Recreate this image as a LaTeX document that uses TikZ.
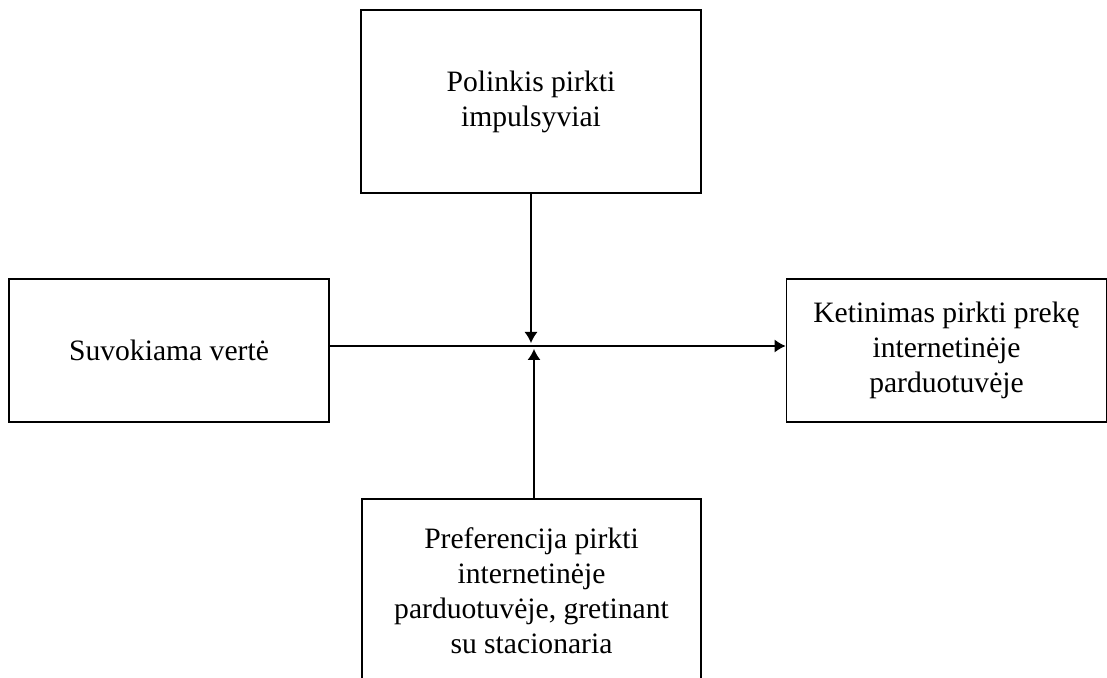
\documentclass[tikz,border=0pt]{standalone}
\usepackage{fontspec}
\setmainfont{Liberation Serif}
\usetikzlibrary{arrows.meta,positioning}

\begin{document}
\begin{tikzpicture}[
    auto,
    node distance=124.5pt,
    >={Latex[length=5.5pt,width=6.5pt]},
    font=\fontsize{14.8}{17.5}\selectfont,
    factor/.style={
		rectangle,
		draw=black,
		line width=0.9pt,
		align=center,
		minimum width=160pt,
		minimum height=71.5pt,
		fill=white
	},
	link/.style={
		draw,
		line width=0.6pt,
		->
	}
  ]
    % page frame, the lower block runs off the edge
  \clip (0,0) rectangle (553.5pt,-339pt);

    % We start by placing the blocks
  \node [factor, minimum width=170pt, minimum height=91.5pt] (impulse) at (265.5pt,-50.75pt)
 {Polinkis pirkti\\impulsyviai};

  \node [factor, below of=impulse, xshift=-181pt] (value)
 {Suvokiama vertė};

  \node [factor, below of=impulse, xshift=207.75pt] (intent)
 {Ketinimas pirkti prekę\\internetinėje\\parduotuvėje};

  \node [factor, below of=impulse, yshift=-120pt, xshift=0.25pt, minimum width=169.5pt, minimum height=91.5pt] (preference)
 {Preferencija pirkti\\internetinėje\\parduotuvėje, gretinant\\su stacionaria};

  \coordinate (hub) at ([yshift=2.25pt]value.east);

 \draw [link] (hub) -- ([yshift=2.25pt]intent.west);
 \draw [link, shorten >=1.5pt] (impulse.south) -- (impulse.south |- hub);
 \draw [link, shorten >=1.5pt] ([xshift=1.25pt]preference.north) -- ([xshift=1.25pt]preference.north |- hub);

\end{tikzpicture}
\end{document}
